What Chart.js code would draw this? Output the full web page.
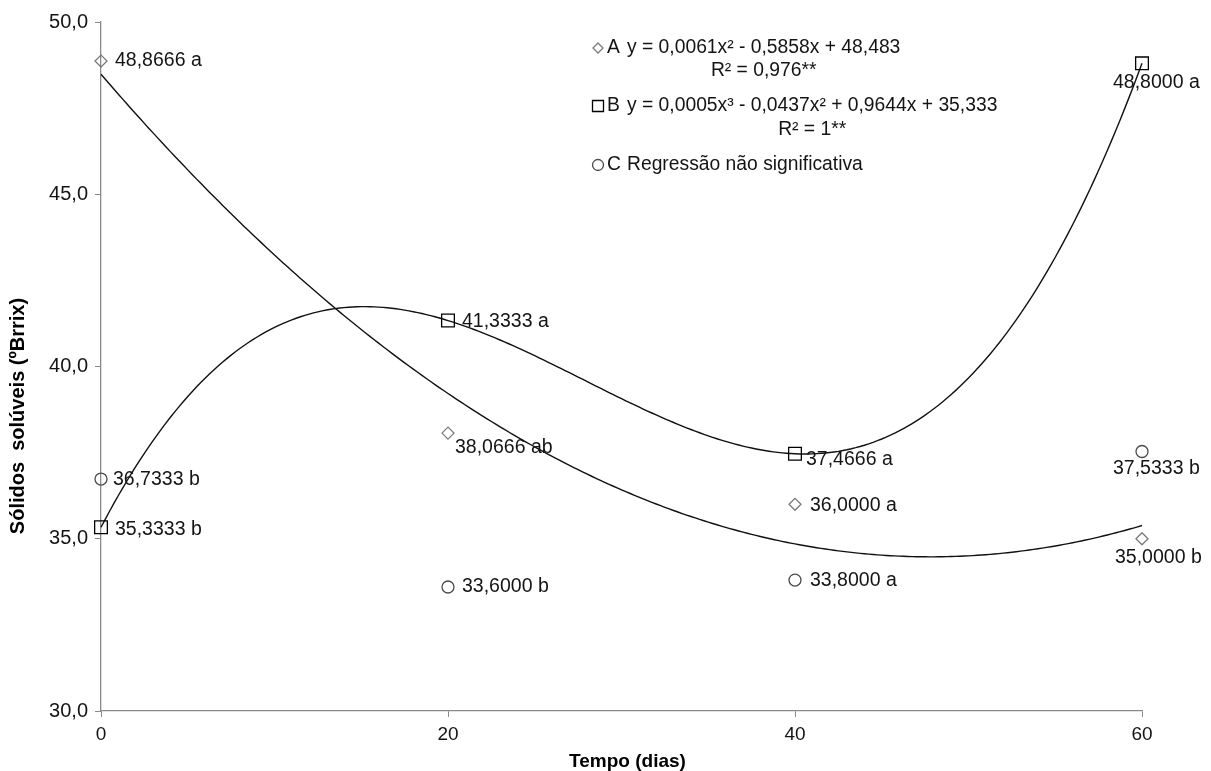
<!DOCTYPE html>
<html>
<head>
<meta charset="utf-8">
<script src="https://cdn.jsdelivr.net/npm/chart.js@4.4.1/dist/chart.umd.min.js"></script>
<style>
  html, body { margin: 0; padding: 0; background: #ffffff; }
  #wrap { width: 1211px; height: 771px; position: relative; }
</style>
</head>
<body>
<div id="wrap"><canvas id="grafico"></canvas></div>
<script>
// Dias de armazenamento
const dias = [0, 20, 40, 60];

// Sólidos solúveis (ºBrix) por tratamento
const valoresA = [48.8666, 38.0666, 36.0000, 35.0000];
const valoresB = [35.3333, 41.3333, 37.4666, 48.8000];
const valoresC = [36.7333, 33.6000, 33.8000, 37.5333];

// Letras do teste de médias
const letrasA = ['a', 'ab', 'a', 'b'];
const letrasB = ['b', 'a', 'a', 'a'];
const letrasC = ['b', 'b', 'a', 'b'];

// Marcas dos eixos
const ticksX = [0, 20, 40, 60];
const ticksY = [30, 35, 40, 45, 50];

// Textos da legenda
const legendaA = ['A', 'y = 0,0061x² - 0,5858x + 48,483', 'R² = 0,976**'];
const legendaB = ['B', 'y = 0,0005x³ - 0,0437x² + 0,9644x + 35,333', 'R² = 1**'];
const legendaC = ['C', 'Regressão não significativa'];

const tituloX = 'Tempo (dias)';
const tituloY = 'Sólidos  solúveis (ºBrrix)';

const FONTE = '"Liberation Sans", Arial, sans-serif';
const COR_TEXTO = '#141414';

// Ajuste polinomial por mínimos quadrados (linha de tendência)
function ajustePolinomial(xs, ys, grau) {
  const n = grau + 1;
  const M = Array.from({ length: n }, () => new Array(n + 1).fill(0));
  for (let i = 0; i < xs.length; i++) {
    for (let r = 0; r < n; r++) {
      for (let c = 0; c < n; c++) M[r][c] += Math.pow(xs[i], r + c);
      M[r][n] += ys[i] * Math.pow(xs[i], r);
    }
  }
  for (let k = 0; k < n; k++) {
    let p = k;
    for (let r = k + 1; r < n; r++) if (Math.abs(M[r][k]) > Math.abs(M[p][k])) p = r;
    [M[k], M[p]] = [M[p], M[k]];
    for (let r = 0; r < n; r++) {
      if (r === k) continue;
      const f = M[r][k] / M[k][k];
      for (let c = k; c <= n; c++) M[r][c] -= f * M[k][c];
    }
  }
  return M.map((row, i) => row[n] / row[i]);
}

function curvaTendencia(xs, ys, grau) {
  const coef = ajustePolinomial(xs, ys, grau);
  const pts = [];
  const x0 = xs[0], x1 = xs[xs.length - 1];
  for (let k = 0; k <= 240; k++) {
    const x = x0 + (x1 - x0) * k / 240;
    let y = 0;
    for (let j = coef.length - 1; j >= 0; j--) y = y * x + coef[j];
    pts.push({ x, y });
  }
  return pts;
}

const pontos = (vals) => dias.map((d, i) => ({ x: d, y: vals[i] }));
const fmt = (v) => v.toFixed(4).replace('.', ',');

// Deslocamento dos rótulos em relação ao ponto (px)
const deslocRotulos = {
  A: [[14, 0], [7, 15], [15, 1], [-27, 19]],
  B: [[14, 2], [14, 1], [11, 6], [-29, 19]],
  C: [[12, 1], [14, 0], [15, 1], [-29, 17]]
};

const series = [
  { chave: 'A', vals: valoresA, letras: letrasA },
  { chave: 'B', vals: valoresB, letras: letrasB },
  { chave: 'C', vals: valoresC, letras: letrasC }
];

const pluginRotulos = {
  id: 'rotulos',
  afterDatasetsDraw(chart) {
    const ctx = chart.ctx;
    const xs = chart.scales.x, ys = chart.scales.y;
    ctx.save();
    ctx.font = '19.5px ' + FONTE;
    ctx.fillStyle = COR_TEXTO;
    ctx.textAlign = 'left';
    ctx.textBaseline = 'middle';
    series.forEach(s => {
      s.vals.forEach((v, i) => {
        const px = xs.getPixelForValue(dias[i]);
        const py = ys.getPixelForValue(v);
        const [dx, dy] = deslocRotulos[s.chave][i];
        ctx.fillText(fmt(v) + ' ' + s.letras[i], px + dx, py + dy);
      });
    });
    ctx.restore();
  }
};

function marcador(ctx, tipo, x, y, r) {
  ctx.beginPath();
  if (tipo === 'diamante') {
    ctx.moveTo(x, y - r); ctx.lineTo(x + r, y); ctx.lineTo(x, y + r); ctx.lineTo(x - r, y); ctx.closePath();
    ctx.strokeStyle = '#7a7a7a';
  } else if (tipo === 'quadrado') {
    ctx.rect(x - r, y - r, 2 * r, 2 * r);
    ctx.strokeStyle = '#000000';
  } else {
    ctx.arc(x, y, r, 0, Math.PI * 2);
    ctx.strokeStyle = '#4a4a4a';
  }
  ctx.lineWidth = 1.3;
  ctx.stroke();
}

const pluginLegenda = {
  id: 'legenda',
  afterDraw(chart) {
    const ctx = chart.ctx;
    ctx.save();
    ctx.font = '19.3px ' + FONTE;
    ctx.fillStyle = COR_TEXTO;
    ctx.textBaseline = 'middle';
    const xMarca = 598, xLetra = 607, xTexto = 627;
    const entradas = [
      { tipo: 'diamante', r: 5, txt: legendaA, y: 48, y2: 71 },
      { tipo: 'quadrado', r: 5.5, txt: legendaB, y: 106, y2: 130 },
      { tipo: 'circulo', r: 5.5, txt: legendaC, y: 165 }
    ];
    entradas.forEach(e => {
      marcador(ctx, e.tipo, xMarca, e.y, e.r);
      ctx.textAlign = 'left';
      ctx.fillText(e.txt[0], xLetra, e.y);
      ctx.fillText(e.txt[1], xTexto, e.y);
      if (e.txt[2]) {
        const w = ctx.measureText(e.txt[1]).width;
        ctx.textAlign = 'center';
        ctx.fillText(e.txt[2], xTexto + w / 2, e.y2);
      }
    });
    ctx.restore();
  }
};

const pluginTitulos = {
  id: 'titulos',
  afterDraw(chart) {
    const ctx = chart.ctx;
    const a = chart.chartArea;
    ctx.save();
    ctx.fillStyle = '#000000';
    ctx.textAlign = 'center';
    ctx.textBaseline = 'middle';
    ctx.font = 'bold 19px ' + FONTE;
    ctx.fillText(tituloX, (a.left + a.right) / 2 + 6, 762);
    ctx.font = 'bold 20px ' + FONTE;
    ctx.translate(18, 416);
    ctx.rotate(-Math.PI / 2);
    ctx.fillText(tituloY, 0, 0);
    ctx.restore();
  }
};

const linhaTendencia = (dados) => ({
  type: 'line',
  data: dados,
  borderColor: '#111111',
  borderWidth: 1.4,
  pointRadius: 0,
  pointHoverRadius: 0,
  fill: false,
  tension: 0,
  clip: false,
  order: 2
});

const dispersao = (vals, estilo, cor, raio) => ({
  type: 'scatter',
  data: pontos(vals),
  pointStyle: estilo,
  pointRadius: raio,
  pointHoverRadius: raio,
  pointBorderColor: cor,
  pointBackgroundColor: 'rgba(0,0,0,0)',
  pointBorderWidth: 1.3,
  showLine: false,
  clip: false,
  order: 1
});

new Chart(document.getElementById('grafico'), {
  data: {
    datasets: [
      linhaTendencia(curvaTendencia(dias, valoresA, 2)),
      linhaTendencia(curvaTendencia(dias, valoresB, 3)),
      dispersao(valoresA, 'rectRot', '#7a7a7a', 6),
      dispersao(valoresB, 'rect', '#000000', 9),
      dispersao(valoresC, 'circle', '#4a4a4a', 6)
    ]
  },
  options: {
    responsive: true,
    maintainAspectRatio: false,
    animation: false,
    layout: { padding: { left: 0, top: 22, right: 69, bottom: 0 } },
    plugins: {
      legend: { display: false },
      tooltip: { enabled: false }
    },
    scales: {
      x: {
        type: 'linear',
        min: ticksX[0],
        max: ticksX[ticksX.length - 1],
        afterBuildTicks(s) { s.ticks = ticksX.map(v => ({ value: v })); },
        afterFit(s) { s.height = 60; },
        ticks: { font: { family: FONTE, size: 19 }, color: COR_TEXTO, padding: 6, maxRotation: 0 },
        grid: { drawOnChartArea: false, drawTicks: true, tickLength: 6, color: '#8a8a8a' },
        border: { display: true, color: '#8a8a8a', width: 1.3 }
      },
      y: {
        type: 'linear',
        min: ticksY[0],
        max: ticksY[ticksY.length - 1],
        afterBuildTicks(s) { s.ticks = ticksY.map(v => ({ value: v })); },
        afterFit(s) { s.width = 101; },
        ticks: {
          font: { family: FONTE, size: 20 },
          color: COR_TEXTO,
          padding: 7,
          callback: (v) => v.toFixed(1).replace('.', ',')
        },
        grid: { drawOnChartArea: false, drawTicks: true, tickLength: 6, color: '#8a8a8a' },
        border: { display: true, color: '#8a8a8a', width: 1.3 }
      }
    }
  },
  plugins: [pluginRotulos, pluginLegenda, pluginTitulos]
});
</script>
</body>
</html>
